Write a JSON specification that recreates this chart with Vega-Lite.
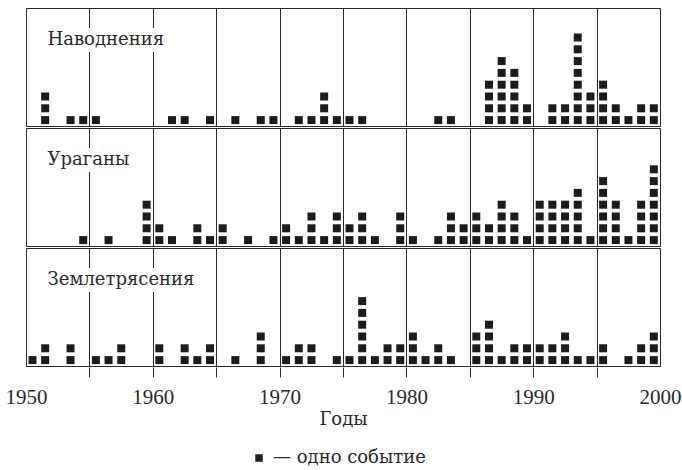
{
  "$schema": "https://vega.github.io/schema/vega-lite/v6.json",
  "background": "white",
  "padding": {"left": 5, "top": 7, "right": 5, "bottom": 0},
  "data": {"values": [
    {"type":"Наводнения","year":1951},{"type":"Наводнения","year":1951},{"type":"Наводнения","year":1951},
    {"type":"Наводнения","year":1953},{"type":"Наводнения","year":1954},{"type":"Наводнения","year":1955},
    {"type":"Наводнения","year":1961},{"type":"Наводнения","year":1962},{"type":"Наводнения","year":1964},
    {"type":"Наводнения","year":1966},{"type":"Наводнения","year":1968},{"type":"Наводнения","year":1969},
    {"type":"Наводнения","year":1971},{"type":"Наводнения","year":1972},
    {"type":"Наводнения","year":1973},{"type":"Наводнения","year":1973},{"type":"Наводнения","year":1973},
    {"type":"Наводнения","year":1974},{"type":"Наводнения","year":1975},{"type":"Наводнения","year":1976},
    {"type":"Наводнения","year":1982},{"type":"Наводнения","year":1983},
    {"type":"Наводнения","year":1986},{"type":"Наводнения","year":1986},{"type":"Наводнения","year":1986},{"type":"Наводнения","year":1986},
    {"type":"Наводнения","year":1987},{"type":"Наводнения","year":1987},{"type":"Наводнения","year":1987},{"type":"Наводнения","year":1987},{"type":"Наводнения","year":1987},{"type":"Наводнения","year":1987},
    {"type":"Наводнения","year":1988},{"type":"Наводнения","year":1988},{"type":"Наводнения","year":1988},{"type":"Наводнения","year":1988},{"type":"Наводнения","year":1988},
    {"type":"Наводнения","year":1989},{"type":"Наводнения","year":1989},
    {"type":"Наводнения","year":1991},{"type":"Наводнения","year":1991},
    {"type":"Наводнения","year":1992},{"type":"Наводнения","year":1992},
    {"type":"Наводнения","year":1993},{"type":"Наводнения","year":1993},{"type":"Наводнения","year":1993},{"type":"Наводнения","year":1993},{"type":"Наводнения","year":1993},{"type":"Наводнения","year":1993},{"type":"Наводнения","year":1993},{"type":"Наводнения","year":1993},
    {"type":"Наводнения","year":1994},{"type":"Наводнения","year":1994},{"type":"Наводнения","year":1994},
    {"type":"Наводнения","year":1995},{"type":"Наводнения","year":1995},{"type":"Наводнения","year":1995},{"type":"Наводнения","year":1995},
    {"type":"Наводнения","year":1996},{"type":"Наводнения","year":1996},
    {"type":"Наводнения","year":1997},
    {"type":"Наводнения","year":1998},{"type":"Наводнения","year":1998},
    {"type":"Наводнения","year":1999},{"type":"Наводнения","year":1999},

    {"type":"Ураганы","year":1954},{"type":"Ураганы","year":1956},
    {"type":"Ураганы","year":1959},{"type":"Ураганы","year":1959},{"type":"Ураганы","year":1959},{"type":"Ураганы","year":1959},
    {"type":"Ураганы","year":1960},{"type":"Ураганы","year":1960},
    {"type":"Ураганы","year":1961},
    {"type":"Ураганы","year":1963},{"type":"Ураганы","year":1963},
    {"type":"Ураганы","year":1964},
    {"type":"Ураганы","year":1965},{"type":"Ураганы","year":1965},
    {"type":"Ураганы","year":1967},{"type":"Ураганы","year":1969},
    {"type":"Ураганы","year":1970},{"type":"Ураганы","year":1970},
    {"type":"Ураганы","year":1971},
    {"type":"Ураганы","year":1972},{"type":"Ураганы","year":1972},{"type":"Ураганы","year":1972},
    {"type":"Ураганы","year":1973},
    {"type":"Ураганы","year":1974},{"type":"Ураганы","year":1974},{"type":"Ураганы","year":1974},
    {"type":"Ураганы","year":1975},{"type":"Ураганы","year":1975},
    {"type":"Ураганы","year":1976},{"type":"Ураганы","year":1976},{"type":"Ураганы","year":1976},
    {"type":"Ураганы","year":1977},
    {"type":"Ураганы","year":1979},{"type":"Ураганы","year":1979},{"type":"Ураганы","year":1979},
    {"type":"Ураганы","year":1980},{"type":"Ураганы","year":1982},
    {"type":"Ураганы","year":1983},{"type":"Ураганы","year":1983},{"type":"Ураганы","year":1983},
    {"type":"Ураганы","year":1984},{"type":"Ураганы","year":1984},
    {"type":"Ураганы","year":1985},{"type":"Ураганы","year":1985},{"type":"Ураганы","year":1985},
    {"type":"Ураганы","year":1986},{"type":"Ураганы","year":1986},
    {"type":"Ураганы","year":1987},{"type":"Ураганы","year":1987},{"type":"Ураганы","year":1987},{"type":"Ураганы","year":1987},
    {"type":"Ураганы","year":1988},{"type":"Ураганы","year":1988},{"type":"Ураганы","year":1988},
    {"type":"Ураганы","year":1989},
    {"type":"Ураганы","year":1990},{"type":"Ураганы","year":1990},{"type":"Ураганы","year":1990},{"type":"Ураганы","year":1990},
    {"type":"Ураганы","year":1991},{"type":"Ураганы","year":1991},{"type":"Ураганы","year":1991},{"type":"Ураганы","year":1991},
    {"type":"Ураганы","year":1992},{"type":"Ураганы","year":1992},{"type":"Ураганы","year":1992},{"type":"Ураганы","year":1992},
    {"type":"Ураганы","year":1993},{"type":"Ураганы","year":1993},{"type":"Ураганы","year":1993},{"type":"Ураганы","year":1993},{"type":"Ураганы","year":1993},
    {"type":"Ураганы","year":1994},
    {"type":"Ураганы","year":1995},{"type":"Ураганы","year":1995},{"type":"Ураганы","year":1995},{"type":"Ураганы","year":1995},{"type":"Ураганы","year":1995},{"type":"Ураганы","year":1995},
    {"type":"Ураганы","year":1996},{"type":"Ураганы","year":1996},{"type":"Ураганы","year":1996},{"type":"Ураганы","year":1996},
    {"type":"Ураганы","year":1997},
    {"type":"Ураганы","year":1998},{"type":"Ураганы","year":1998},{"type":"Ураганы","year":1998},{"type":"Ураганы","year":1998},
    {"type":"Ураганы","year":1999},{"type":"Ураганы","year":1999},{"type":"Ураганы","year":1999},{"type":"Ураганы","year":1999},{"type":"Ураганы","year":1999},{"type":"Ураганы","year":1999},{"type":"Ураганы","year":1999},

    {"type":"Землетрясения","year":1950},
    {"type":"Землетрясения","year":1951},{"type":"Землетрясения","year":1951},
    {"type":"Землетрясения","year":1953},{"type":"Землетрясения","year":1953},
    {"type":"Землетрясения","year":1955},{"type":"Землетрясения","year":1956},
    {"type":"Землетрясения","year":1957},{"type":"Землетрясения","year":1957},
    {"type":"Землетрясения","year":1960},{"type":"Землетрясения","year":1960},
    {"type":"Землетрясения","year":1962},{"type":"Землетрясения","year":1962},
    {"type":"Землетрясения","year":1963},
    {"type":"Землетрясения","year":1964},{"type":"Землетрясения","year":1964},
    {"type":"Землетрясения","year":1966},
    {"type":"Землетрясения","year":1968},{"type":"Землетрясения","year":1968},{"type":"Землетрясения","year":1968},
    {"type":"Землетрясения","year":1970},
    {"type":"Землетрясения","year":1971},{"type":"Землетрясения","year":1971},
    {"type":"Землетрясения","year":1972},{"type":"Землетрясения","year":1972},
    {"type":"Землетрясения","year":1974},{"type":"Землетрясения","year":1975},
    {"type":"Землетрясения","year":1976},{"type":"Землетрясения","year":1976},{"type":"Землетрясения","year":1976},{"type":"Землетрясения","year":1976},{"type":"Землетрясения","year":1976},{"type":"Землетрясения","year":1976},
    {"type":"Землетрясения","year":1977},
    {"type":"Землетрясения","year":1978},{"type":"Землетрясения","year":1978},
    {"type":"Землетрясения","year":1979},{"type":"Землетрясения","year":1979},
    {"type":"Землетрясения","year":1980},{"type":"Землетрясения","year":1980},{"type":"Землетрясения","year":1980},
    {"type":"Землетрясения","year":1981},
    {"type":"Землетрясения","year":1982},{"type":"Землетрясения","year":1982},
    {"type":"Землетрясения","year":1983},
    {"type":"Землетрясения","year":1985},{"type":"Землетрясения","year":1985},{"type":"Землетрясения","year":1985},
    {"type":"Землетрясения","year":1986},{"type":"Землетрясения","year":1986},{"type":"Землетрясения","year":1986},{"type":"Землетрясения","year":1986},
    {"type":"Землетрясения","year":1987},
    {"type":"Землетрясения","year":1988},{"type":"Землетрясения","year":1988},
    {"type":"Землетрясения","year":1989},{"type":"Землетрясения","year":1989},
    {"type":"Землетрясения","year":1990},{"type":"Землетрясения","year":1990},
    {"type":"Землетрясения","year":1991},{"type":"Землетрясения","year":1991},
    {"type":"Землетрясения","year":1992},{"type":"Землетрясения","year":1992},{"type":"Землетрясения","year":1992},
    {"type":"Землетрясения","year":1993},{"type":"Землетрясения","year":1994},
    {"type":"Землетрясения","year":1995},{"type":"Землетрясения","year":1995},
    {"type":"Землетрясения","year":1997},
    {"type":"Землетрясения","year":1998},{"type":"Землетрясения","year":1998},
    {"type":"Землетрясения","year":1999},{"type":"Землетрясения","year":1999},{"type":"Землетрясения","year":1999}
  ]},
  "transform": [
    {"window": [{"op": "row_number", "as": "level"}], "groupby": ["type", "year"]}
  ],
  "facet": {
    "row": {"field": "type", "type": "nominal", "sort": ["Наводнения", "Ураганы", "Землетрясения"], "header": null, "title": null}
  },
  "spacing": 0,
  "spec": {
    "width": 634,
    "height": 118,
    "layer": [
      {
        "mark": {"type": "square", "size": 64, "opacity": 1, "xOffset": 6.5},
        "encoding": {
          "x": {
            "field": "year", "type": "quantitative",
            "scale": {"domain": [1950, 2000], "nice": false, "zero": false},
            "axis": {
              "values": [1950, 1955, 1960, 1965, 1970, 1975, 1980, 1985, 1990, 1995, 2000],
              "format": "d",
              "labelExpr": "datum.value % 10 === 0 ? datum.label : ''",
              "grid": true, "gridColor": "#2a2a2a", "gridOpacity": 1, "gridWidth": 1,
              "domain": false,
              "ticks": true, "tickSize": 10, "tickColor": "#2a2a2a", "tickWidth": 1,
              "tickOpacity": {"condition": {"test": "datum.value === 1950 || datum.value === 2000", "value": 0}, "value": 1},
              "labelFont": "Liberation Serif", "labelFontSize": 21, "labelColor": "#2a2a2a",
              "labelPadding": 9, "labelFlush": false, "labelOverlap": false,
              "title": "Годы", "titleFont": "DejaVu Serif", "titleFontSize": 18,
              "titleFontWeight": "normal", "titleColor": "#2a2a2a", "titlePadding": 3
            }
          },
          "y": {
            "field": "level", "type": "quantitative",
            "scale": {"domain": [0.5, 10.5], "nice": false, "zero": false},
            "axis": null
          },
          "color": {
            "datum": "— одно событие", "type": "nominal",
            "scale": {"range": ["#1c1c1c"]},
            "legend": {
              "orient": "none", "legendX": 224, "legendY": 441, "title": null, "symbolType": "square", "symbolSize": 56,
              "symbolStrokeWidth": 0, "labelFont": "DejaVu Serif", "labelFontSize": 18,
              "labelColor": "#2a2a2a", "labelOffset": 5
            }
          }
        }
      },
      {
        "transform": [{"aggregate": [{"op": "count", "as": "n"}], "groupby": ["type"]}],
        "mark": {"type": "text", "align": "left", "baseline": "alphabetic", "font": "DejaVu Serif", "fontSize": 18,
                 "fill": "white", "stroke": "white", "strokeWidth": 14, "strokeJoin": "round"},
        "encoding": {
          "x": {"datum": 1951.7, "type": "quantitative"},
          "y": {"datum": 7.4, "type": "quantitative"},
          "text": {"field": "type"}
        }
      },
      {
        "transform": [{"aggregate": [{"op": "count", "as": "n"}], "groupby": ["type"]}],
        "mark": {"type": "text", "align": "left", "baseline": "alphabetic", "font": "DejaVu Serif", "fontSize": 18,
                 "fill": "#2a2a2a"},
        "encoding": {
          "x": {"datum": 1951.7, "type": "quantitative"},
          "y": {"datum": 7.4, "type": "quantitative"},
          "text": {"field": "type"}
        }
      }
    ]
  },
  "config": {
    "view": {"stroke": "#2a2a2a", "strokeWidth": 1}
  }
}
